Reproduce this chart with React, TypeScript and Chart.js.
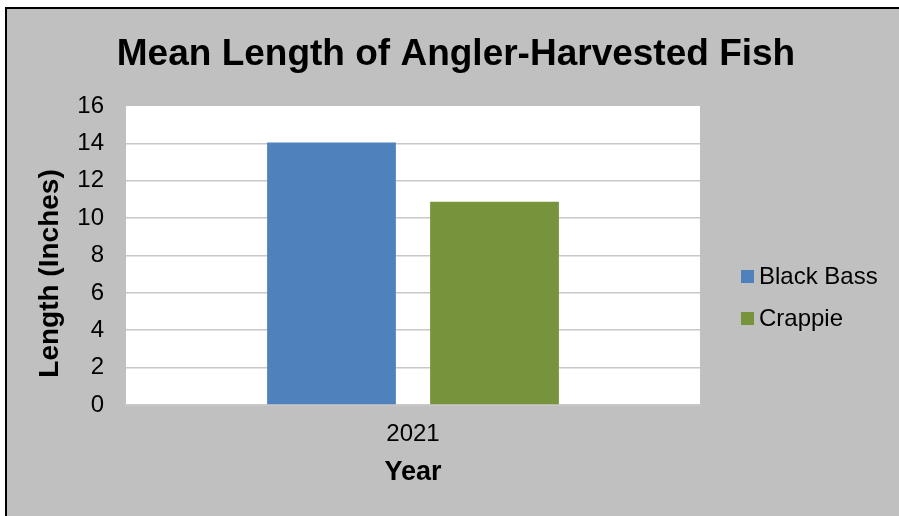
import React, { useEffect, useRef } from "react";
import { Chart, registerables } from "chart.js";

Chart.register(...registerables);

const categories = ["2021"];
const seriesNames = ["Black Bass", "Crappie"];
const blackBass = [14.05];
const crappie = [10.88];
const seriesColors = ["#4F81BD", "#77933C"];
const yTicks = [0, 2, 4, 6, 8, 10, 12, 14, 16];

const TITLE = "Mean Length of Angler-Harvested Fish";
const Y_TITLE = "Length (Inches)";
const X_TITLE = "Year";
const FONT = "'Liberation Sans', Arial, sans-serif";

const overlay = {
  id: "overlay",
  beforeDraw(chart: any) {
    const { ctx, chartArea } = chart;
    ctx.save();
    ctx.fillStyle = "#FFFFFF";
    ctx.fillRect(chartArea.left, chartArea.top, chartArea.right - chartArea.left, chartArea.bottom - chartArea.top);
    ctx.restore();
  },
  afterDraw(chart: any) {
    const { ctx, chartArea } = chart;
    ctx.save();
    ctx.fillStyle = "#000000";
    // title
    ctx.font = `bold 37px ${FONT}`;
    ctx.textAlign = "center";
    ctx.textBaseline = "alphabetic";
    ctx.fillText(TITLE, 456, 64.5);
    // x title
    ctx.font = `bold 27px ${FONT}`;
    ctx.fillText(X_TITLE, (chartArea.left + chartArea.right) / 2, 479.5);
    // y title
    ctx.save();
    ctx.translate(57.5, 273.5);
    ctx.rotate(-Math.PI / 2);
    ctx.font = `bold 28px ${FONT}`;
    ctx.textAlign = "center";
    ctx.fillText(Y_TITLE, 0, 0);
    ctx.restore();
    // legend
    ctx.font = `24px ${FONT}`;
    ctx.textAlign = "left";
    chart.data.datasets.forEach((ds: any, i: number) => {
      const y = 270 + i * 42;
      ctx.fillStyle = ds.backgroundColor;
      ctx.fillRect(741, y, 13, 13);
      ctx.fillStyle = "#000000";
      ctx.fillText(ds.label, 759, y + 13.5);
    });
    ctx.restore();
  },
};

export default function App() {
  const ref = useRef<HTMLCanvasElement | null>(null);
  useEffect(() => {
    if (!ref.current) return;
    const chart = new Chart(ref.current, {
      type: "bar",
      data: {
        labels: categories,
        datasets: [
          { label: seriesNames[0], data: blackBass, backgroundColor: seriesColors[0] },
          { label: seriesNames[1], data: crappie, backgroundColor: seriesColors[1] },
        ],
      },
      options: {
        responsive: false,
        animation: false,
        devicePixelRatio: 1,
        layout: { padding: { top: 106, right: 199, left: 0, bottom: 0 } },
        datasets: { bar: { categoryPercentage: 0.568, barPercentage: 0.79 } },
        plugins: { legend: { display: false }, title: { display: false }, tooltip: { enabled: false } },
        scales: {
          x: {
            grid: { display: false, drawTicks: false },
            border: { display: true, color: "#C8C8C8", width: 2 },
            ticks: { color: "#000", font: { family: FONT, size: 24 }, padding: 15 },
            afterFit: (s: any) => { s.height = 111; },
          },
          y: {
            min: 0,
            max: 16,
            afterBuildTicks: (s: any) => { s.ticks = yTicks.map((v) => ({ value: v })); },
            grid: {
              drawTicks: false,
              lineWidth: 1.6,
              color: (c: any) => (c.tick && c.tick.value === 16 ? "rgba(0,0,0,0)" : "#C8C8C8"),
            },
            border: { display: false },
            ticks: { color: "#000", font: { family: FONT, size: 24 }, padding: 22 },
            afterFit: (s: any) => { s.width = 126; },
          },
        },
      },
      plugins: [overlay],
    });
    return () => chart.destroy();
  }, []);
  return (
    <div style={{ position: "absolute", left: 0, top: 0, width: 899, height: 516, overflow: "hidden", background: "#FFFFFF" }}>
      <div style={{ position: "absolute", left: 5, top: 7, width: 1000, height: 1000, background: "#C0C0C0", borderLeft: "2px solid #000", borderTop: "2px solid #000" }} />
      <canvas ref={ref} width={899} height={516} style={{ position: "absolute", left: 0, top: 0, width: 899, height: 516 }} />
    </div>
  );
}
